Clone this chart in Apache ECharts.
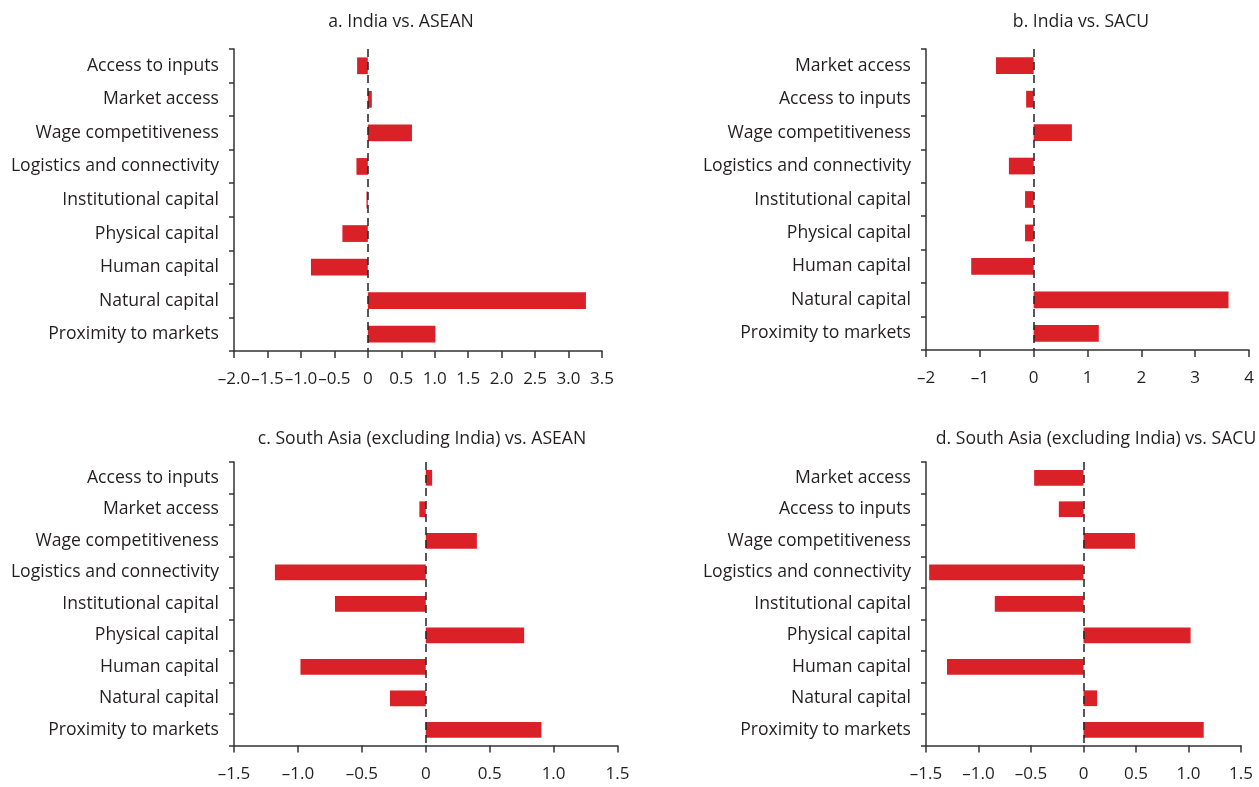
<!DOCTYPE html>
<html>
<head>
<meta charset="utf-8">
<script src="https://cdn.jsdelivr.net/npm/echarts@6/dist/echarts.min.js"></script>
<style>
  html, body { margin: 0; padding: 0; background: #fff; }
  #chart { width: 1259px; height: 787px; }
</style>
</head>
<body>
<div id="chart"></div>
<script>
// Factor categories, listed top to bottom as drawn
const catsA = ['Access to inputs', 'Market access', 'Wage competitiveness', 'Logistics and connectivity',
  'Institutional capital', 'Physical capital', 'Human capital', 'Natural capital', 'Proximity to markets'];
const catsB = ['Market access', 'Access to inputs', 'Wage competitiveness', 'Logistics and connectivity',
  'Institutional capital', 'Physical capital', 'Human capital', 'Natural capital', 'Proximity to markets'];
const catsC = catsA;
const catsD = catsB;

// Differences in factor scores
const valuesA = [-0.16, 0.06, 0.66, -0.17, -0.02, -0.38, -0.85, 3.26, 1.01];   // India vs. ASEAN
const valuesB = [-0.70, -0.14, 0.71, -0.46, -0.16, -0.16, -1.16, 3.62, 1.21];  // India vs. SACU
const valuesC = [0.05, -0.05, 0.40, -1.18, -0.71, 0.77, -0.98, -0.28, 0.905];  // South Asia excl. India vs. ASEAN
const valuesD = [-0.47, -0.235, 0.49, -1.47, -0.845, 1.02, -1.30, 0.13, 1.145]; // South Asia excl. India vs. SACU

const titles = ['a. India vs. ASEAN', 'b. India vs. SACU',
  'c. South Asia (excluding India) vs. ASEAN', 'd. South Asia (excluding India) vs. SACU'];

// Value-axis ranges: [min, max, interval, decimals]
const axisA = [-2, 3.5, 0.5, 1];
const axisB = [-2, 4, 1, 0];
const axisC = [-1.5, 1.5, 0.5, 1];
const axisD = [-1.5, 1.5, 0.5, 1];

const FONT = '"Open Sans", "Noto Sans", sans-serif';
const TEXT = '#231f20';
const LINE = '#333';
const RED = '#da2128';

const panels = [
  { cats: catsA, vals: valuesA, ax: axisA, grid: { left: 234, top: 49, width: 368, height: 302 }, title: [396, 8] },
  { cats: catsB, vals: valuesB, ax: axisB, grid: { left: 926, top: 49, width: 323, height: 301 }, title: [1076, 8] },
  { cats: catsC, vals: valuesC, ax: axisC, grid: { left: 234, top: 462, width: 383.5, height: 283.5 }, title: [417, 425] },
  { cats: catsD, vals: valuesD, ax: axisD, grid: { left: 926, top: 462, width: 315, height: 283.5 }, title: [1091, 425] }
];

function fmt(decimals) {
  return function (v) {
    if (Math.abs(v) < 1e-9) return '0';
    return v.toFixed(decimals).replace('-', '\u2013');
  };
}

const option = {
  animation: false,
  backgroundColor: '#fff',
  title: panels.map((p, i) => ({
    text: titles[i],
    left: p.title[0], top: p.title[1],
    textAlign: 'center',
    textStyle: { fontFamily: FONT, fontSize: 17.6, fontWeight: 'normal', color: TEXT }
  })),
  grid: panels.map(p => Object.assign({ containLabel: false }, p.grid)),
  xAxis: panels.map((p, i) => ({
    type: 'value', gridIndex: i,
    min: p.ax[0], max: p.ax[1], interval: p.ax[2],
    splitLine: { show: false },
    axisLine: { show: true, onZero: false, lineStyle: { color: LINE, width: 1.5 } },
    axisTick: { show: true, length: 7, lineStyle: { color: LINE, width: 1.5 } },
    axisLabel: { formatter: fmt(p.ax[3]), margin: 20, fontFamily: FONT, fontSize: 17, color: TEXT }
  })),
  yAxis: panels.map((p, i) => ({
    type: 'category', gridIndex: i, data: p.cats, inverse: true,
    axisLine: { show: true, onZero: false, lineStyle: { color: LINE, width: 1.5 } },
    axisTick: { show: true, length: 5, lineStyle: { color: LINE, width: 1.5 } },
    axisLabel: { margin: 15, fontFamily: FONT, fontSize: 17.6, color: TEXT }
  })),
  series: panels.map((p, i) => ({
    type: 'bar', xAxisIndex: i, yAxisIndex: i,
    data: p.vals, barWidth: '50%',
    itemStyle: { color: RED },
    markLine: {
      silent: true, symbol: 'none', label: { show: false },
      lineStyle: { color: '#222', width: 1.5, type: [8, 5] },
      data: [{ xAxis: 0 }]
    }
  }))
};

const chart = echarts.init(document.getElementById('chart'), null, { renderer: 'canvas' });
chart.setOption(option);
</script>
</body>
</html>
